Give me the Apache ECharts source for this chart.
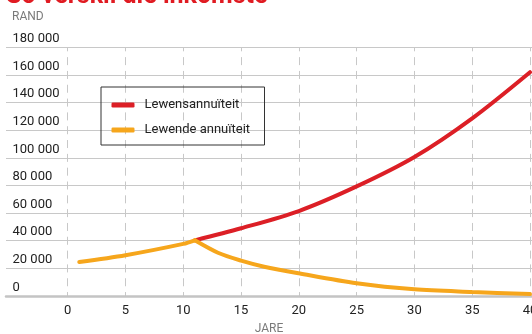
<!DOCTYPE html>
<html>
<head>
<meta charset="utf-8">
<script src="https://cdn.jsdelivr.net/npm/echarts@6/dist/echarts.min.js"></script>
<style>html,body{margin:0;padding:0;background:#fff;}#c{width:532px;height:334px;}</style>
</head>
<body>
<div id="c"></div>
<script>
var yearsUp = [1, 5, 10, 11];
var orangeUp = [24600, 29500, 37700, 40300];
var yearsDown = [11, 13, 15, 17, 20, 25, 30, 35, 40];
var orangeDown = [40300, 31300, 25600, 21200, 16400, 9200, 4800, 2900, 1400];
var yearsRed = [11, 15, 20, 25, 30, 35, 40];
var redVals = [40300, 49000, 61500, 79300, 100600, 128600, 162000];
var yTicks = [0, 20000, 40000, 60000, 80000, 100000, 120000, 140000, 160000, 180000];
var xTicks = [0, 5, 10, 15, 20, 25, 30, 35, 40];
var seriesNames = ['Lewensannuïteit', 'Lewende annuïteit'];
var titleText = 'So verskil die inkomste';

function pairs(xs, ys) { return xs.map(function (x, i) { return [x, ys[i]]; }); }
function fmt(v) { return String(v).replace(/\B(?=(\d{3})+(?!\d))/g, ' '); }

var RED = '#dc1f26', ORANGE = '#f6a61c';
var FONT = 'Roboto';
var chart = echarts.init(document.getElementById('c'), null, { renderer: 'canvas' });
chart.setOption({
  animation: false,
  backgroundColor: '#ffffff',
  textStyle: { fontFamily: FONT },
  graphic: [
    { type: 'text', left: 6, top: -16, style: { text: titleText, fill: '#e01b22', font: 'bold 25px Roboto' } },
    { type: 'text', left: 12, top: 11, style: { text: 'RAND', fill: '#7a7a7a', font: '12px Roboto' } }
  ],
  legend: {
    left: 101, top: 87, orient: 'vertical',
    data: seriesNames,
    itemWidth: 23, itemHeight: 5, icon: 'roundRect', itemGap: 11,
    padding: [11, 12, 8, 10.5],
    borderColor: '#333', borderWidth: 1,
    textStyle: { fontFamily: FONT, fontSize: 13, color: '#222', lineHeight: 14, width: 108, padding: [0, 0, 0, 5] }
  },
  grid: [
    { left: 6, right: 0, top: 47.3, bottom: 38, outerBoundsMode: 'none', containLabel: false },
    { left: 67.7, right: 2, top: 47.3, bottom: 38, outerBoundsMode: 'none', containLabel: false }
  ],
  xAxis: [
    { gridIndex: 0, type: 'value', min: 0, max: 1,
      axisLine: { show: true, lineStyle: { color: '#c4c4c4', width: 2.5 } },
      axisTick: { show: false }, axisLabel: { show: false }, splitLine: { show: false },
      name: 'JARE', nameLocation: 'middle', nameGap: 27,
      nameTextStyle: { color: '#7a7a7a', fontSize: 12, fontFamily: FONT } },
    { gridIndex: 1, type: 'value', min: xTicks[0], max: xTicks[xTicks.length - 1], interval: 5,
      axisLine: { show: false }, axisTick: { show: false },
      axisLabel: { color: '#222', fontSize: 13, margin: 8, fontFamily: FONT },
      splitLine: { show: true, lineStyle: { color: '#c8c8c8', width: 1, type: [8, 5.82], dashOffset: 4 } } }
  ],
  yAxis: [
    { gridIndex: 0, type: 'value', min: yTicks[0], max: yTicks[yTicks.length - 1], interval: 20000,
      axisLine: { show: false }, axisTick: { show: false },
      axisLabel: { inside: true, margin: 6.5, verticalAlign: 'bottom', padding: [0, 0, 2, 0],
        color: '#222', fontSize: 13, fontFamily: FONT, formatter: fmt },
      splitLine: { show: true, lineStyle: { color: '#c8c8c8', width: 1 } } },
    { gridIndex: 1, type: 'value', min: yTicks[0], max: yTicks[yTicks.length - 1], interval: 20000,
      show: false, splitLine: { show: false } }
  ],
  series: [
    { name: seriesNames[0], type: 'line', xAxisIndex: 1, yAxisIndex: 1, data: pairs(yearsRed, redVals),
      smooth: 0.3, showSymbol: false, color: RED, lineStyle: { color: RED, width: 4, cap: 'round' } },
    { name: seriesNames[1], type: 'line', xAxisIndex: 1, yAxisIndex: 1, data: pairs(yearsUp, orangeUp),
      smooth: 0.3, showSymbol: false, color: ORANGE, lineStyle: { color: ORANGE, width: 4, cap: 'round' } },
    { name: seriesNames[1], type: 'line', xAxisIndex: 1, yAxisIndex: 1, data: pairs(yearsDown, orangeDown),
      smooth: 0.3, showSymbol: false, color: ORANGE, lineStyle: { color: ORANGE, width: 4, cap: 'round' } }
  ]
});
</script>
</body>
</html>
